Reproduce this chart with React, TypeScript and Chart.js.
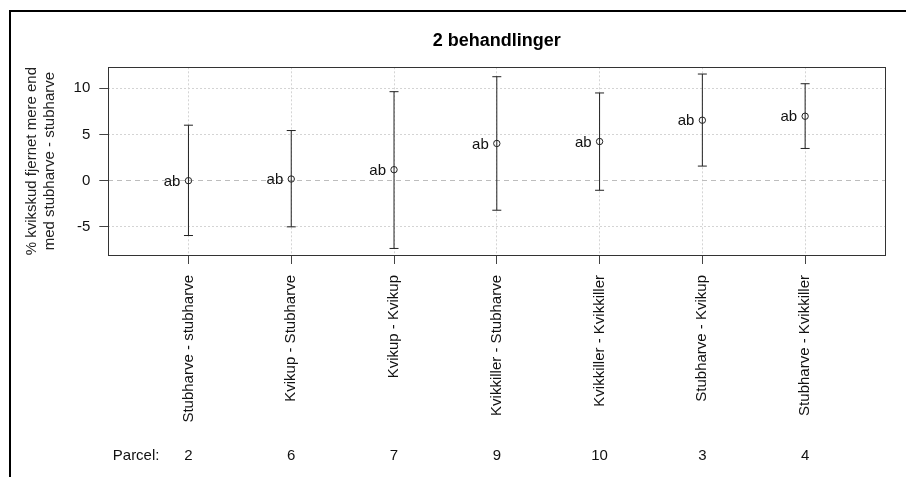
import { useEffect, useRef } from "react";
import { Chart, registerables } from "chart.js";

Chart.register(...registerables);

// Treatment combinations along the x axis
const treatments = [
  "Stubharve - stubharve",
  "Kvikup - Stubharve",
  "Kvikup - Kvikup",
  "Kvikkiller - Stubharve",
  "Kvikkiller - Kvikkiller",
  "Stubharve - Kvikup",
  "Stubharve - Kvikkiller",
];
const parcels = ["2", "6", "7", "9", "10", "3", "4"];
const means = [0, 0.18, 1.19, 4.03, 4.24, 6.55, 6.98];
const upper = [6.01, 5.43, 9.64, 11.26, 9.5, 11.55, 10.5];
const lower = [-5.94, -5.0, -7.34, -3.2, -1.04, 1.58, 3.49];
const groupLetters = ["ab", "ab", "ab", "ab", "ab", "ab", "ab"];
const yTickValues = [-5, 0, 5, 10];

const chartTitle = "2 behandlinger";
const yTitle = ["% kvikskud fjernet mere end", "med stubharve - stubharve"];
const parcelLabel = "Parcel:";

const FONT = '"Liberation Sans", Arial, Helvetica, sans-serif';
const INK = "#111";

const decorations = {
  id: "decorations",
  beforeDraw(chart: any) {
    const { ctx, width, height } = chart;
    ctx.save();
    ctx.fillStyle = "#fff";
    ctx.fillRect(0, 0, width, height);
    // outer frame (top and left edges)
    ctx.fillStyle = "#000";
    ctx.fillRect(9, 10, width - 9, 2);
    ctx.fillRect(9, 10, 2, height - 10);
    ctx.restore();
  },
  afterDatasetsDraw(chart: any) {
    const { ctx, chartArea } = chart;
    const xs = chart.scales.x;
    const ys = chart.scales.y;
    ctx.save();
    // plot box
    ctx.strokeStyle = "#333";
    ctx.lineWidth = 1;
    const l = Math.round(chartArea.left) + 0.5;
    const t = Math.round(chartArea.top) + 0.5;
    const r = Math.round(chartArea.right) + 0.5;
    const b = Math.round(chartArea.bottom) + 0.5;
    ctx.strokeRect(l, t, r - l, b - t);
    // group letters beside each mean
    ctx.fillStyle = INK;
    ctx.font = `15px ${FONT}`;
    ctx.textAlign = "right";
    ctx.textBaseline = "middle";
    groupLetters.forEach((g, i) => {
      const px = xs.getPixelForValue(i + 1);
      const py = ys.getPixelForValue(means[i]);
      ctx.fillText(g, px - 8, py + 1);
    });
    ctx.restore();
  },
  afterDraw(chart: any) {
    const { ctx } = chart;
    const xs = chart.scales.x;
    const rowY = 456;
    ctx.save();
    ctx.fillStyle = INK;
    ctx.font = `15px ${FONT}`;
    ctx.textBaseline = "middle";
    ctx.textAlign = "right";
    ctx.fillText(parcelLabel, xs.getPixelForValue(1) - 29, rowY);
    ctx.textAlign = "center";
    parcels.forEach((p, i) => {
      ctx.fillText(p, xs.getPixelForValue(i + 1), rowY);
    });
    ctx.restore();
  },
};

export default function App() {
  const canvasRef = useRef<HTMLCanvasElement | null>(null);

  useEffect(() => {
    const canvas = canvasRef.current;
    if (!canvas) return;
    Chart.defaults.font.family = FONT;

    const whiskers: any[] = [];
    treatments.forEach((_, i) => {
      whiskers.push({ x: i + 1, y: lower[i] });
      whiskers.push({ x: i + 1, y: upper[i] });
      whiskers.push({ x: i + 1, y: null });
    });

    const chart = new Chart(canvas, {
      type: "scatter",
      data: {
        datasets: [
          {
            type: "line",
            data: whiskers,
            borderColor: "#222",
            borderWidth: 1,
            pointStyle: "line",
            pointRadius: 4.5,
            pointBorderWidth: 1,
            pointBorderColor: "#222",
            pointBackgroundColor: "#222",
            fill: false,
            spanGaps: false,
            tension: 0,
          } as any,
          {
            type: "scatter",
            data: means.map((m, i) => ({ x: i + 1, y: m })),
            pointStyle: "circle",
            pointRadius: 3.2,
            pointBorderWidth: 1,
            pointBorderColor: "#222",
            pointBackgroundColor: "rgba(0,0,0,0)",
          } as any,
        ],
      },
      options: {
        responsive: false,
        animation: false,
        events: [],
        layout: { padding: { top: 0, left: 0, right: 20.7, bottom: 0 } },
        plugins: {
          legend: { display: false },
          tooltip: { enabled: false },
          title: {
            display: true,
            text: chartTitle,
            fullSize: false,
            color: "#000",
            font: { family: FONT, size: 18, weight: "bold" },
            padding: { top: 30, bottom: 15.7 },
          },
        },
        scales: {
          x: {
            type: "linear",
            position: "bottom",
            min: 0.22,
            max: 7.78,
            afterBuildTicks: (s: any) => {
              s.ticks = treatments.map((_, i) => ({ value: i + 1 }));
            },
            afterFit: (s: any) => {
              s.height = 222;
            },
            ticks: {
              minRotation: 90,
              maxRotation: 90,
              autoSkip: false,
              padding: 11,
              color: INK,
              font: { size: 15 },
              callback: (v: any) => treatments[Math.round(Number(v)) - 1] ?? "",
            },
            grid: {
              color: "#d4d4d4",
              lineWidth: 1,
              drawTicks: true,
              tickLength: 9,
              tickColor: "#444",
              tickWidth: 1,
            },
            border: { display: false, dash: [2, 2] },
          },
          y: {
            type: "linear",
            min: -8.05,
            max: 12.28,
            afterBuildTicks: (s: any) => {
              s.ticks = yTickValues.map((v) => ({ value: v }));
            },
            afterFit: (s: any) => {
              s.width = 108.3;
            },
            ticks: {
              padding: 9,
              color: INK,
              font: { size: 15 },
              callback: (v: any) => String(v),
            },
            grid: {
              color: (c: any) => (c.tick && c.tick.value === 0 ? "#bdbdbd" : "#d4d4d4"),
              lineWidth: 1,
              drawTicks: true,
              tickLength: 9,
              tickColor: "#444",
              tickWidth: 1,
            },
            border: {
              display: false,
              dash: (c: any) => (c.tick && c.tick.value === 0 ? [5, 4] : [2, 2]),
            },
            title: {
              display: true,
              text: yTitle,
              color: "#222",
              font: { size: 15, lineHeight: 1.22 },
              padding: { top: 22.5, bottom: 0 },
            },
          },
        },
      } as any,
      plugins: [decorations],
    });

    return () => chart.destroy();
  }, []);

  return (
    <div style={{ position: "absolute", left: 0, top: 0, width: 906, height: 477, background: "#fff" }}>
      <canvas ref={canvasRef} width={906} height={477} style={{ display: "block", width: 906, height: 477 }} />
    </div>
  );
}
